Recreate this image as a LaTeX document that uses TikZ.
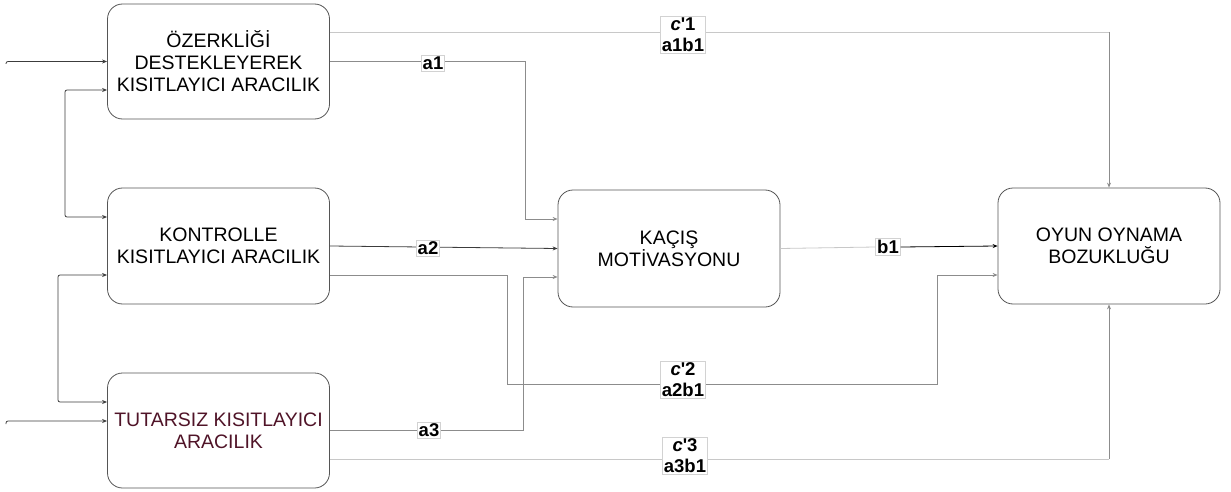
\documentclass[tikz,border=0pt]{standalone}
\usepackage{fontspec}
\setmainfont{Liberation Sans}
\usetikzlibrary{arrows.meta,calc}
\definecolor{boxline}{RGB}{85,85,85}
\definecolor{lnlight}{RGB}{200,200,200}
\definecolor{lnmid}{RGB}{140,140,140}
\definecolor{lndark}{RGB}{60,60,60}
\definecolor{maroon}{RGB}{80,20,40}
\newcommand{\cpr}[1]{\textit{c}\textquotesingle#1}
\tikzset{
  x=1pt, y=-1pt,
  boxnode/.style={draw=boxline, line width=0.8pt, rounded corners=15pt, fill=white,
    minimum width=222pt, inner sep=0pt, align=center,
    font=\fontsize{19.5}{22}\selectfont},
  lab/.style={draw=gray!35, line width=0.6pt, fill=white, inner sep=1.5pt, align=center,
    font=\bfseries\fontsize{18.5}{21}\selectfont},
  conn/.style={line width=0.8pt, -{Stealth[length=5pt,width=4pt]}},
  bconn/.style={line width=0.8pt, {Stealth[length=5pt,width=4pt]}-{Stealth[length=5pt,width=4pt]}, rounded corners=2pt},
}
\begin{document}
\begin{tikzpicture}
\useasboundingbox (0,0) rectangle (1231,492);
% boxes
\node[boxnode, minimum height=115pt] (A) at (218.5,61.5) {ÖZERKLİĞİ\\DESTEKLEYEREK\\KISITLAYICI ARACILIK};
\node[boxnode, minimum height=116pt] (K) at (218.5,246) {KONTROLLE\\KISITLAYICI ARACILIK};
\node[boxnode, minimum height=115pt] (T) at (218.5,430.5) {\color{maroon}TUTARSIZ KISITLAYICI\\\color{maroon}ARACILIK};
\node[boxnode, minimum height=117pt] (M) at (669,248.5) {KAÇIŞ\\MOTİVASYONU};
\node[boxnode, minimum height=116pt] (O) at (1109,246) {OYUN OYNAMA\\BOZUKLUĞU};

% waypoints
\coordinate (inA) at (6,64);
\coordinate (inT) at (6,424);
\coordinate (v1a) at (65,90);
\coordinate (v1b) at (65,217);
\coordinate (v2a) at (58,275);
\coordinate (v2b) at (58,402);
\coordinate (c1) at (1109,32);
\coordinate (p1a) at (525,61.5);
\coordinate (p1) at (525,219);
\coordinate (q1) at (507,384);
\coordinate (q2) at (937,275);
\coordinate (p3) at (523,277);
\coordinate (c3) at (1109,459);

% left inputs
\draw[conn, draw=lndark, rounded corners=2pt] (inA) |- (A.west);
\draw[conn, draw=lndark, rounded corners=2pt] (inT) |- (T.west |- 0,421);
\draw[bconn, draw=lndark] (A.west |- v1a) -- (v1a) -- (v1b) -- (K.west |- v1b);
\draw[bconn, draw=lndark] (K.west |- v2a) -- (v2a) -- (v2b) -- (T.west |- v2b);

% c'1
\draw[line width=0.8pt, draw=lnlight] (A.east |- c1) -- (c1);
\draw[conn, draw=lnmid] (c1) -- (O.north);
% a1
\draw[conn, draw=lnmid] (A.east) -- (p1a) -- (p1) -- (M.west |- p1);
% a2
\draw[conn, draw=lndark] (K.east) -- (M.west);
% c'2
\draw[conn, draw=lnmid] (K.east |- q2) -| (q1) -| (q2) -- (O.west |- q2);
% a3
\draw[conn, draw=lnmid] (T.east) -| (p3) -- (M.west |- p3);
% c'3
\draw[line width=0.8pt, draw=lnlight] (T.east |- c3) -- (c3);
\draw[conn, draw=lnmid] (c3) -- (O.south);

% labels
\node[lab] (la1) at (433,63) {a1};
\node[lab] (la2) at (428,248) {a2};
\node[lab] (la3) at (429,430) {a3};
\node[lab] (lb1) at (888,247) {b1};
\node[lab] (lc1) at (683,35) {\cpr{1}\\a1b1};
\node[lab] (lc2) at (683,380) {\cpr{2}\\a2b1};
\node[lab] (lc3) at (685,456) {\cpr{3}\\a3b1};

% b1
\draw[line width=0.8pt, draw=lnlight] (M.east) -- (lb1.west);
\draw[conn, draw=black] (lb1.east) -- (O.west);
\end{tikzpicture}
\end{document}
